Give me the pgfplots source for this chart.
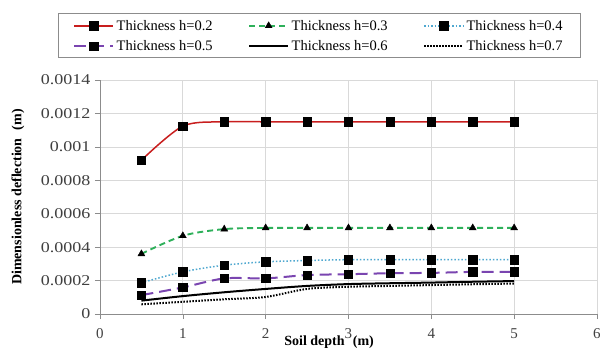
\documentclass[border=0pt]{standalone}
\usepackage{pgfplots}
\pgfplotsset{compat=1.18}
\usepackage{fontspec}
\setmainfont{Liberation Serif}
\newfontfamily\widefont[FakeStretch=1.2]{Liberation Serif}
\definecolor{cred}{HTML}{C81E1E}
\definecolor{cgreen}{HTML}{2EB05A}
\definecolor{cblue}{HTML}{4FA8D0}
\definecolor{cpurple}{HTML}{7A45B0}
\definecolor{axgray}{HTML}{8C8C8C}
\definecolor{grgray}{HTML}{D9D9D9}
\definecolor{tkgray}{HTML}{404040}
\pgfplotsset{
  sqmark/.style={mark=square*, mark size=4.2pt, mark options={solid, fill=black, draw=black, line width=0.4pt}},
  trimark/.style={mark=triangle*, mark size=4pt, mark options={solid, fill=black, draw=black, line width=0.4pt}},
}
\begin{document}
\begin{tikzpicture}
\begin{axis}[
  at={(0pt,0pt)}, anchor=south west,
  scale only axis, width=497pt, height=234pt,
  xmin=0, xmax=6, ymin=0, ymax=0.0014,
  xtick={0,1,2,3,4,5,6}, xticklabels={0,1,2,3,4,5,6},
  ytick={0,0.0002,0.0004,0.0006,0.0008,0.001,0.0012,0.0014},
  yticklabels={0,0.0002,0.0004,0.0006,0.0008,0.001,0.0012,0.0014},
  scaled y ticks=false,
  axis lines=left, axis line style={axgray, -},
  tick style={axgray, line width=0.6pt},
  tick align=outside, major tick length=5pt,
  grid=major, major grid style={grgray, line width=0.7pt},
  xticklabel style={font=\fontsize{15}{17}\selectfont, text=tkgray, yshift=-6pt},
  yticklabel style={font=\widefont\fontsize{15}{17}\selectfont, text=tkgray, xshift=-1pt},
  xlabel={\textbf{Soil depth\,\, (m)}},
  ylabel={\textbf{Dimensionless deflection\,\, (m)}},
  label style={font=\fontsize{14}{16}\selectfont},
  xlabel style={at={(axis description cs:0.461,-0.12)}, anchor=center},
  ylabel style={at={(axis description cs:-0.165,0.5)}, anchor=center},
  legend columns=3,
  legend style={name=leg, at={(axis description cs:-0.0845,1.2915)}, anchor=north west,
    draw=none, fill=none, font=\fontsize{14.5}{16}\selectfont,
    inner xsep=15pt, inner ysep=0pt, row sep=4pt,
    nodes={inner sep=2.5pt},
    /tikz/column 2/.style={column sep=33pt},
    /tikz/column 4/.style={column sep=33pt}},
  legend cell align=left,
  legend image code/.code={%
    \draw[#1, mark=none] (0pt,0pt) -- (39pt,0pt);
    \draw[#1, only marks] plot coordinates {(19.5pt,0pt)};},
]
\addlegendimage{empty legend}\addlegendentry[inner sep=0pt]{\mbox{}}
\addlegendimage{empty legend}\addlegendentry[inner sep=0pt]{\mbox{}}
\addlegendimage{empty legend}\addlegendentry[inner sep=0pt]{\mbox{}}
\addplot[color=cred, line width=1.5pt, smooth, sqmark]
coordinates {(0.5,0.00092) (1,0.001124) (1.5,0.00115) (2,0.00115) (2.5,0.00115) (3,0.00115) (3.5,0.00115) (4,0.00115) (4.5,0.00115) (5,0.00115)};
\addlegendentry{Thickness h=0.2}
\addplot[color=cgreen, line width=1.9pt, smooth, dash pattern=on 6pt off 4pt, trimark]
coordinates {(0.5,0.00036) (1,0.000468) (1.5,0.000508) (2,0.000515) (2.5,0.000515) (3,0.000515) (3.5,0.000515) (4,0.000515) (4.5,0.000515) (5,0.000515)};
\addlegendentry{Thickness h=0.3}
\addplot[color=cblue, line width=1.5pt, smooth, dash pattern=on 1.5pt off 2pt, sqmark]
coordinates {(0.5,0.000187) (1,0.000252) (1.5,0.000292) (2,0.000312) (2.5,0.00032) (3,0.000325) (3.5,0.000325) (4,0.000325) (4.5,0.000325) (5,0.000325)};
\addlegendentry{Thickness h=0.4}
\addplot[color=cpurple, line width=2pt, smooth, dash pattern=on 12pt off 6pt, sqmark]
coordinates {(0.5,0.000113) (1,0.000159) (1.5,0.000213) (2,0.000213) (2.5,0.000233) (3,0.000238) (3.5,0.000244) (4,0.000246) (4.5,0.000252) (5,0.000252)};
\addlegendentry{Thickness h=0.5}
\addplot[color=black, line width=2pt, smooth, no markers]
coordinates {(0.5,0.00008) (1,0.000107) (1.5,0.00013) (2,0.00015) (2.5,0.000168) (3,0.000179) (3.5,0.000184) (4,0.000188) (4.5,0.000193) (5,0.000197)};
\addlegendentry{Thickness h=0.6}
\addplot[color=black, line width=2pt, smooth, dash pattern=on 1.5pt off 1.5pt, no markers]
coordinates {(0.5,0.000058) (1,0.000073) (1.5,0.000088) (2,0.000102) (2.5,0.00015) (3,0.000163) (3.5,0.000168) (4,0.000173) (4.5,0.000178) (5,0.000182)};
\addlegendentry{Thickness h=0.7}
\end{axis}
\draw[axgray, line width=0.8pt] ([yshift=-3pt]leg.south west) rectangle ([yshift=-2pt]leg.north east);
\pgfresetboundingbox
\path (-100pt,-37pt) rectangle (500pt,314pt);
\end{tikzpicture}
\end{document}
